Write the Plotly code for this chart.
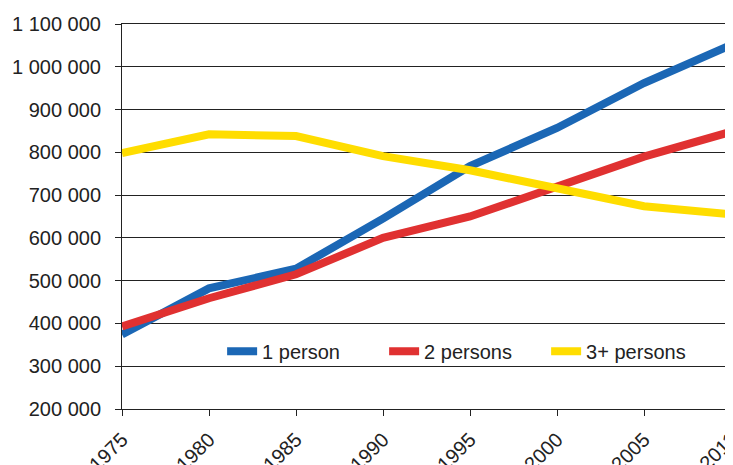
import plotly.graph_objects as go

years = ["1975", "1980", "1985", "1990", "1995", "2000", "2005", "2011"]
one_person = [374000, 482000, 528000, 645000, 768000, 857000, 962000, 1051000]
two_persons = [393000, 459000, 515000, 600000, 650000, 722000, 790000, 848000]
three_plus = [798000, 842000, 838000, 791000, 758000, 715000, 674000, 655000]

series = [
    ("1 person", one_person, "#1b67b5"),
    ("2 persons", two_persons, "#e03131"),
    ("3+ persons", three_plus, "#ffdd00"),
]

fig = go.Figure()
for name, vals, col in series:
    fig.add_trace(go.Scatter(x=years, y=vals, name=name, mode="lines",
                             line=dict(color=col, width=8)))

font = "Liberation Sans, Arial, sans-serif"
fig.update_layout(
    width=725, height=457,
    margin=dict(l=114, r=2, t=16, b=56),
    paper_bgcolor="white", plot_bgcolor="white",
    separators=". ",
    font=dict(family=font, size=20, color="#222"),
    showlegend=True,
    legend=dict(orientation="h", x=0.1644, y=0.15, xanchor="left", yanchor="middle",
                bgcolor="rgba(0,0,0,0)", font=dict(size=20), itemwidth=30,
                tracegroupgap=0, entrywidth=117, entrywidthmode="pixels"),
    xaxis=dict(type="category", range=[0, 7], showgrid=False, showline=True,
               linecolor="#222", linewidth=1, mirror=True, ticks="outside",
               ticklen=6, tickcolor="#222", tickangle=-45, automargin=False,
               ticklabelstandoff=4),
    yaxis=dict(range=[200000, 1100000], dtick=100000, tickformat=",d",
               showgrid=True, gridcolor="#222", gridwidth=1, showline=True,
               linecolor="#222", linewidth=1, mirror=True, ticks="outside",
               ticklen=6, tickcolor="#222", zeroline=False, automargin=False,
               ticklabelstandoff=10),
)

fig.write_html("out.html")
